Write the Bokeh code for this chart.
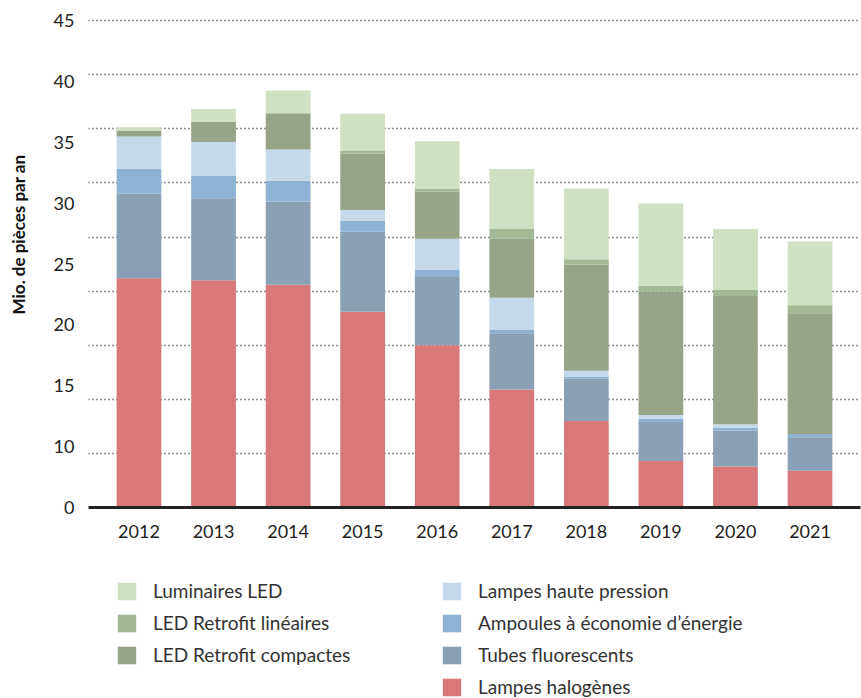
import math
from bokeh.plotting import figure
from bokeh.layouts import column, row
from bokeh.models import Legend, LegendItem, FixedTicker, Range1d, Label, ColumnDataSource
from bokeh.embed import file_html
from bokeh.resources import INLINE

# ---- data ----
years = ["2012", "2013", "2014", "2015", "2016", "2017", "2018", "2019", "2020", "2021"]
halogenes = [21.2, 21.0, 20.6, 18.1, 15.0, 10.9, 8.0, 4.3, 3.8, 3.4]
tubes = [7.8, 7.6, 7.7, 7.4, 6.3, 5.2, 3.9, 3.6, 3.3, 3.1]
ampoules = [2.3, 2.1, 1.9, 1.0, 0.65, 0.3, 0.2, 0.3, 0.3, 0.3]
haute_pression = [3.0, 3.1, 2.9, 1.0, 2.9, 3.0, 0.55, 0.35, 0.3, 0.0]
retrofit_compactes = [0.55, 1.85, 3.35, 5.2, 4.35, 5.45, 9.8, 11.4, 11.85, 11.15]
retrofit_lineaires = [0.0, 0.0, 0.0, 0.3, 0.3, 0.9, 0.5, 0.55, 0.55, 0.75]
luminaires_led = [0.3, 1.2, 2.1, 3.4, 4.35, 5.55, 6.55, 7.6, 5.65, 5.9]

series_keys = ["halogenes", "tubes", "ampoules", "haute_pression",
               "retrofit_compactes", "retrofit_lineaires", "luminaires_led"]
series_names = ["Lampes halogènes", "Tubes fluorescents", "Ampoules à économie d’énergie",
                "Lampes haute pression", "LED Retrofit compactes", "LED Retrofit linéaires",
                "Luminaires LED"]
series_colors = ["#d97878", "#8aa0b4", "#8db2d4", "#c6d9ea", "#97a489", "#a3b993", "#cfe1c2"]

y_tick_labels = ["0", "10", "15", "20", "25", "30", "35", "40", "45"]
y_grid_values = [0, 5, 10, 15, 20, 25, 30, 35, 40, 45]
y_max = 45
y_title = "Mio. de pièces par an"

FONT = "Lato"

x_pos = list(range(len(years)))
source = ColumnDataSource(dict(
    x=x_pos, halogenes=halogenes, tubes=tubes, ampoules=ampoules,
    haute_pression=haute_pression, retrofit_compactes=retrofit_compactes,
    retrofit_lineaires=retrofit_lineaires, luminaires_led=luminaires_led))


def blank_fig(w, h):
    f = figure(width=w, height=h, x_range=Range1d(0, 1), y_range=Range1d(0, 1),
               output_backend="svg", toolbar_location=None,
               x_axis_location=None, y_axis_location=None,
               min_border_left=0, min_border_right=0, min_border_top=0, min_border_bottom=0)
    f.outline_line_color = None
    f.grid.visible = False
    f.background_fill_color = "white"
    f.border_fill_color = "white"
    return f


# ---- main chart ----
p = figure(width=825, height=560,
           x_range=Range1d(-0.677, 9.677), y_range=Range1d(0, 45.3),
           output_backend="svg", toolbar_location=None,
           min_border_left=52, min_border_right=1, min_border_top=17, min_border_bottom=53)
p.outline_line_color = None
p.background_fill_color = "white"
p.border_fill_color = "white"

renderers = p.vbar_stack(series_keys, x="x", width=0.6, fill_color=series_colors,
                         line_color=None, source=source)

p.xgrid.visible = False
p.ygrid.ticker = FixedTicker(ticks=y_grid_values)
p.ygrid.grid_line_color = "#222222"
p.ygrid.grid_line_dash = "1 3"
p.ygrid.grid_line_width = 1.5

p.xaxis.ticker = FixedTicker(ticks=x_pos)
p.xaxis.major_label_overrides = {i: y for i, y in enumerate(years)}
p.xaxis.axis_line_width = 3
p.xaxis.axis_line_color = "#222222"
p.xaxis.major_tick_line_color = None
p.xaxis.minor_tick_line_color = None
p.xaxis.major_tick_out = 0
p.xaxis.major_label_standoff = 17
p.xaxis.major_label_text_font = FONT
p.xaxis.major_label_text_font_size = "18px"
p.xaxis.major_label_text_color = "#222222"

# y axis labels evenly spaced, as in the original chart
n = len(y_tick_labels)
y_tick_pos = [y_max * k / (n - 1) for k in range(n)]
p.yaxis.ticker = FixedTicker(ticks=y_tick_pos)
p.yaxis.major_label_overrides = {t: lab for t, lab in zip(y_tick_pos, y_tick_labels)}
p.yaxis.axis_line_color = None
p.yaxis.major_tick_line_color = None
p.yaxis.minor_tick_line_color = None
p.yaxis.major_tick_out = 0
p.yaxis.major_label_standoff = 14
p.yaxis.major_label_text_font = FONT
p.yaxis.major_label_text_font_size = "18px"
p.yaxis.major_label_text_color = "#222222"

# ---- y title strip (its frame is aligned with the chart frame) ----
tf = blank_fig(36, 560)
tf.add_layout(Label(x=18, y=273, x_units="screen", y_units="screen", text=y_title,
                    angle=math.pi / 2, text_align="center", text_baseline="middle",
                    text_font=FONT, text_font_size="17px", text_font_style="bold",
                    text_color="#111111"))

# ---- legend strip ----
lf = blank_fig(861, 138)
swatches = {}
for key, color in zip(series_keys, series_colors):
    swatches[key] = lf.vbar(x=[-5], top=[0], width=0.5, fill_color=color, line_color=None)
blank = lf.vbar(x=[-5], top=[0], width=0.5, fill_alpha=0, line_alpha=0)
name = dict(zip(series_keys, series_names))
order = ["luminaires_led", "haute_pression", "retrofit_lineaires", "ampoules",
         "retrofit_compactes", "tubes", None, "halogenes"]
items = []
for key in order:
    if key is None:
        items.append(LegendItem(label=" ", renderers=[blank]))
    else:
        items.append(LegendItem(label=name[key], renderers=[swatches[key]]))
legend = Legend(items=items, orientation="horizontal", ncols=2, location=(115, 0),
                margin=0, padding=0, spacing=9, glyph_width=23, glyph_height=22,
                label_height=22, label_width=278, label_standoff=15,
                label_text_font=FONT, label_text_font_size="19px",
                label_text_color="#333333", border_line_color=None,
                background_fill_alpha=0)
lf.add_layout(legend, "center")

layout = column(row(tf, p), lf)
open("out.html", "w").write(file_html(layout, INLINE))
